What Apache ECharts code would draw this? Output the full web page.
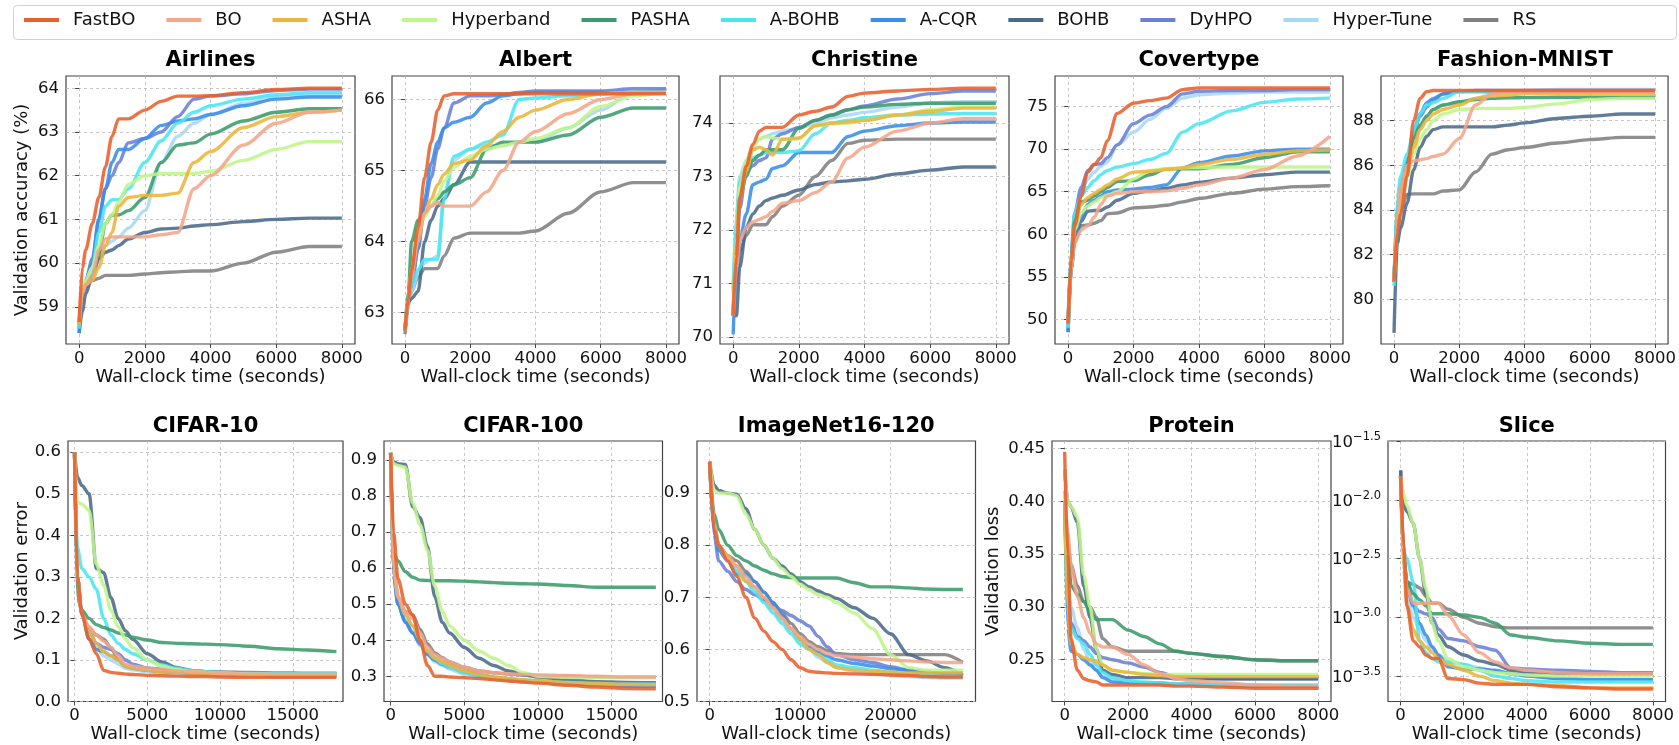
<!DOCTYPE html>
<html><head><meta charset="utf-8">
<script src="https://cdn.jsdelivr.net/npm/echarts@6/dist/echarts.min.js"></script>
<style>html,body{margin:0;padding:0;background:#fff}#c{width:1679px;height:745px}</style>
</head><body><div id="c"></div>
<script>
const methods = ['FastBO','BO','ASHA','Hyperband','PASHA','A-BOHB','A-CQR','BOHB','DyHPO','Hyper-Tune','RS'];
const colors = ['#E8602C','#F4A58A','#EDB53B','#BFF58A','#3B9B6A','#4AE6F0','#3A8DE8','#4A6A8A','#6A7FD8','#A8D8F4','#808080'];

const xs8 = [0,100,200,400,600,800,1000,1200,1500,2000,2500,3000,3500,4000,5000,6000,7000,8000];
const xs18 = [0,200,500,1000,1500,2000,2500,3000,3500,4000,5000,6000,7000,8000,9000,10000,12000,14000,16000,18000];
const xs28 = [0,500,1000,2000,3000,4000,5000,6000,7000,8000,9000,10000,11000,12000,13000,14000,16000,18000,20000,22000,24000,26000,28000];

const ticks8 = [0,2000,4000,6000,8000];
const ticks18 = [0,5000,10000,15000];
const ticks28 = [0,10000,20000];

// series order follows `methods`
const airlines = [
 [58.65,59.9,60.3,60.9,61.5,62.2,62.9,63.3,63.3,63.5,63.7,63.82,63.82,63.83,63.9,63.97,64.0,64.0],
 [58.7,59.3,59.5,59.7,60.3,60.55,60.6,60.6,60.6,60.6,60.65,60.7,61.7,62.0,62.7,63.2,63.45,63.5],
 [58.6,59.4,59.5,59.6,59.9,60.4,60.7,61.3,61.5,61.55,61.55,61.6,62.3,62.55,63.1,63.35,63.45,63.5],
 [58.6,59.5,59.6,59.9,60.4,60.9,61.1,61.4,61.8,62.0,62.05,62.05,62.05,62.1,62.35,62.6,62.78,62.78],
 [58.6,59.4,59.5,59.7,60.2,60.9,61.1,61.1,61.2,61.5,62.3,62.7,62.75,62.95,63.25,63.45,63.53,63.53],
 [58.5,59.4,59.6,59.9,60.7,61.3,61.45,61.45,61.7,62.3,62.8,63.2,63.45,63.6,63.75,63.85,63.9,63.9],
 [58.4,59.3,59.6,60.0,61.0,61.7,62.3,62.6,62.6,62.85,63.15,63.25,63.3,63.4,63.6,63.75,63.8,63.8],
 [58.4,58.9,59.3,59.7,60.1,60.25,60.3,60.4,60.55,60.7,60.78,60.8,60.85,60.88,60.95,61.0,61.03,61.03],
 [58.5,59.3,59.6,60.1,61.0,61.7,62.0,62.3,62.75,62.85,63.0,63.35,63.75,63.82,63.87,63.95,63.98,63.98],
 [58.5,59.4,59.6,59.8,60.1,60.4,60.5,60.6,60.8,61.2,62.3,62.9,63.2,63.4,63.65,63.8,63.85,63.85],
 [58.6,59.3,59.45,59.6,59.65,59.72,59.72,59.72,59.72,59.75,59.78,59.8,59.82,59.82,60.0,60.25,60.38,60.38]
];
const albert = [
 [62.75,63.2,63.6,64.2,64.9,65.4,65.85,66.05,66.08,66.08,66.08,66.08,66.08,66.08,66.08,66.08,66.08,66.08],
 [62.75,63.2,63.5,64.0,64.4,64.5,64.55,64.5,64.5,64.5,64.7,65.0,65.4,65.55,65.8,66.0,66.08,66.1],
 [62.75,63.2,63.6,64.1,64.4,64.6,64.8,64.95,65.1,65.15,65.35,65.55,65.75,65.85,66.0,66.08,66.1,66.1],
 [62.75,63.2,63.6,64.1,64.35,64.5,64.65,64.85,65.05,65.2,65.3,65.35,65.4,65.45,65.6,65.9,66.05,66.1],
 [62.75,63.3,64.0,64.3,64.4,64.5,64.6,64.7,64.8,64.9,65.3,65.4,65.4,65.4,65.5,65.75,65.88,65.88],
 [62.75,63.2,63.4,63.6,63.75,63.75,63.75,64.6,65.2,65.3,65.4,65.5,66.0,66.02,66.05,66.08,66.1,66.1],
 [62.75,63.2,63.4,63.9,64.6,65.1,65.4,65.6,65.68,65.75,65.95,66.05,66.08,66.1,66.1,66.1,66.1,66.1],
 [62.75,63.15,63.2,63.3,64.0,64.3,64.5,64.6,64.8,65.12,65.12,65.12,65.12,65.12,65.12,65.12,65.12,65.12],
 [62.75,63.2,63.4,63.9,64.5,64.9,65.3,65.6,65.95,66.05,66.05,66.07,66.1,66.12,66.12,66.12,66.15,66.15],
 [62.75,63.1,63.3,63.55,63.7,63.75,63.8,64.7,65.15,65.3,65.35,65.35,65.4,65.4,65.6,65.85,66.1,66.15],
 [62.7,63.1,63.3,63.5,63.62,63.62,63.62,63.8,64.05,64.12,64.12,64.12,64.12,64.15,64.4,64.7,64.83,64.83]
];
const christine = [
 [70.4,71.5,72.6,73.2,73.6,73.85,73.92,73.92,73.92,74.15,74.22,74.3,74.5,74.56,74.6,74.63,74.65,74.65],
 [70.4,71.3,71.8,72.05,72.15,72.2,72.25,72.35,72.5,72.55,72.7,72.9,73.35,73.55,73.85,74.0,74.08,74.08],
 [70.4,71.8,72.6,73.1,73.5,73.55,73.5,73.4,73.7,73.72,73.95,74.0,74.02,74.05,74.15,74.22,74.28,74.28],
 [70.4,71.9,72.8,73.3,73.55,73.7,73.75,73.72,73.7,73.7,73.95,73.98,74.0,74.05,74.15,74.25,74.3,74.3],
 [70.4,71.8,72.6,73.0,73.3,73.4,73.5,73.5,73.5,73.9,74.05,74.15,74.25,74.3,74.35,74.37,74.37,74.37],
 [70.9,72.2,72.9,73.2,73.35,73.4,73.45,73.45,73.45,73.48,73.8,74.0,74.05,74.1,74.15,74.17,74.18,74.18],
 [70.05,71.2,71.8,72.3,72.85,72.9,72.95,73.15,73.2,73.45,73.45,73.45,73.75,73.85,73.95,74.0,74.02,74.02],
 [70.4,70.4,71.3,72.05,72.3,72.45,72.55,72.6,72.65,72.75,72.85,72.9,72.92,72.95,73.05,73.12,73.18,73.18],
 [70.4,71.5,72.4,73.1,73.2,73.3,73.35,73.7,73.8,73.92,74.05,74.15,74.25,74.32,74.45,74.55,74.6,74.6],
 [70.8,72.3,73.0,73.3,73.55,73.7,73.75,73.8,73.85,73.9,74.0,74.1,74.15,74.2,74.3,74.38,74.4,74.4],
 [70.4,71.1,71.6,71.9,72.1,72.1,72.1,72.25,72.45,72.65,73.0,73.3,73.62,73.68,73.7,73.7,73.7,73.7]
];
const covertype = [
 [49.5,57,61,64.5,67.3,68.2,69.0,71.0,74.2,75.4,75.7,76.0,77.0,77.2,77.2,77.2,77.2,77.2],
 [49.5,56,59,60.5,61.0,62.0,63.5,64.5,64.8,65.0,65.0,65.1,65.4,65.8,66.6,67.6,69.2,71.5],
 [49.5,57,61,63.5,64.3,64.8,65.3,65.8,66.5,67.3,67.4,67.6,67.8,68.2,68.8,69.4,69.8,69.9],
 [49.5,56.5,60.5,62.5,63.3,63.8,64.3,64.6,65.0,66.5,67.5,67.7,67.8,67.85,67.9,67.9,67.9,67.9],
 [49.5,57.5,61.5,63.8,64.0,64.5,65.0,65.5,66.2,66.3,67.0,67.7,67.7,67.7,68.2,69.0,69.7,69.7],
 [49,58,62.5,64.5,65.5,66.3,67.0,67.5,67.9,68.3,68.8,69.5,72.0,73.0,74.5,75.5,75.9,76.0],
 [48.5,56,60,62.0,63.5,64.0,64.5,65.0,65.2,65.3,65.5,65.8,67.8,68.4,69.2,69.8,70.0,70.0],
 [48.5,56,59.5,61.5,62.7,62.8,62.8,63.2,64.0,64.8,65.1,65.4,65.8,66.1,66.6,67.0,67.3,67.3],
 [49.5,58,62.5,65.5,67.5,68.2,68.3,69.0,70.5,73.0,74.0,75.0,76.5,76.8,76.9,76.9,77.0,77.0],
 [49.5,58,62,65,66.5,67.3,68.0,68.5,70.5,72.0,73.5,74.8,76.0,76.4,76.6,76.7,76.7,76.7],
 [49.5,56,59,61.0,61.1,61.3,61.6,62.4,62.5,63.1,63.2,63.4,63.8,64.2,64.8,65.3,65.6,65.7]
];
const fashion = [
 [80.8,83.0,83.8,85.5,88.0,89.0,89.3,89.35,89.35,89.35,89.35,89.35,89.35,89.35,89.35,89.35,89.35,89.35],
 [80.8,83.5,85.0,86.0,86.2,86.25,86.3,86.4,86.5,87.2,88.7,89.2,89.3,89.3,89.3,89.3,89.3,89.3],
 [80.8,83.5,84.5,85.8,86.8,87.6,88.0,88.3,88.5,88.7,89.0,89.1,89.15,89.2,89.2,89.2,89.2,89.2],
 [80.8,83.2,84.2,85.5,86.5,87.2,87.6,88.0,88.3,88.5,88.55,88.55,88.55,88.6,88.75,88.95,89.0,89.0],
 [80.8,83.5,84.5,86.0,87.2,87.8,88.2,88.5,88.7,88.85,88.95,89.0,89.02,89.03,89.05,89.05,89.05,89.05],
 [80.6,84.5,85.5,86.5,87.5,88.3,88.7,88.8,89.0,89.3,89.3,89.3,89.3,89.3,89.3,89.3,89.3,89.3],
 [80.8,84.2,85.0,86.2,87.5,88.3,88.8,89.0,89.2,89.3,89.3,89.3,89.3,89.3,89.3,89.3,89.3,89.3],
 [78.5,82.5,83.2,84.3,85.8,86.8,87.3,87.6,87.72,87.72,87.72,87.72,87.8,87.9,88.1,88.2,88.3,88.3],
 [80.8,83.5,84.5,86.0,87.5,88.2,88.6,88.9,89.2,89.3,89.35,89.35,89.35,89.35,89.35,89.35,89.35,89.35],
 [80.8,84.0,85.2,86.2,87.0,87.7,88.2,88.5,88.7,88.8,89.0,89.2,89.3,89.35,89.4,89.4,89.4,89.4],
 [80.8,83.0,84.0,84.7,84.72,84.72,84.72,84.72,84.85,84.9,85.7,86.5,86.7,86.8,87.0,87.15,87.25,87.25]
];
const cifar10 = [
 [0.6,0.3,0.21,0.15,0.115,0.075,0.07,0.068,0.066,0.065,0.063,0.062,0.061,0.06,0.06,0.059,0.058,0.058,0.058,0.058],
 [0.6,0.3,0.21,0.18,0.16,0.145,0.13,0.11,0.09,0.085,0.08,0.077,0.074,0.072,0.07,0.068,0.066,0.065,0.065,0.065],
 [0.6,0.3,0.21,0.17,0.14,0.12,0.11,0.1,0.085,0.08,0.075,0.072,0.07,0.068,0.066,0.065,0.063,0.062,0.062,0.062],
 [0.6,0.48,0.475,0.46,0.33,0.28,0.22,0.18,0.15,0.13,0.1,0.085,0.077,0.072,0.07,0.068,0.066,0.065,0.065,0.065],
 [0.6,0.25,0.22,0.2,0.185,0.178,0.172,0.165,0.16,0.155,0.148,0.142,0.14,0.139,0.138,0.137,0.133,0.127,0.124,0.12],
 [0.6,0.37,0.32,0.3,0.27,0.2,0.16,0.14,0.125,0.115,0.1,0.088,0.08,0.075,0.072,0.07,0.068,0.067,0.067,0.067],
 [0.6,0.3,0.21,0.15,0.125,0.12,0.11,0.1,0.085,0.08,0.075,0.072,0.07,0.068,0.066,0.065,0.063,0.062,0.062,0.062],
 [0.6,0.54,0.52,0.5,0.32,0.31,0.25,0.2,0.17,0.15,0.115,0.095,0.082,0.075,0.072,0.07,0.068,0.067,0.067,0.067],
 [0.6,0.3,0.21,0.17,0.14,0.13,0.125,0.115,0.1,0.09,0.08,0.075,0.072,0.07,0.068,0.066,0.065,0.064,0.064,0.064],
 [0.6,0.3,0.21,0.16,0.13,0.11,0.1,0.09,0.08,0.076,0.072,0.069,0.067,0.065,0.064,0.063,0.062,0.061,0.061,0.061],
 [0.6,0.3,0.21,0.175,0.16,0.15,0.13,0.1,0.085,0.082,0.08,0.078,0.076,0.074,0.072,0.071,0.07,0.069,0.068,0.068]
];
const cifar100 = [
 [0.92,0.7,0.57,0.5,0.47,0.4,0.33,0.3,0.3,0.298,0.296,0.294,0.29,0.287,0.284,0.281,0.275,0.27,0.266,0.265],
 [0.92,0.6,0.52,0.48,0.46,0.42,0.38,0.36,0.35,0.34,0.325,0.315,0.31,0.307,0.305,0.304,0.302,0.3,0.298,0.298],
 [0.92,0.6,0.52,0.47,0.44,0.4,0.37,0.35,0.34,0.33,0.315,0.305,0.298,0.294,0.29,0.287,0.283,0.28,0.278,0.277],
 [0.92,0.89,0.885,0.88,0.78,0.72,0.65,0.55,0.48,0.44,0.4,0.37,0.35,0.33,0.31,0.3,0.297,0.296,0.296,0.296],
 [0.92,0.64,0.62,0.59,0.575,0.567,0.566,0.565,0.565,0.565,0.564,0.562,0.56,0.558,0.557,0.556,0.552,0.547,0.547,0.547],
 [0.92,0.6,0.52,0.47,0.44,0.4,0.37,0.35,0.335,0.325,0.31,0.3,0.294,0.29,0.287,0.285,0.282,0.28,0.278,0.278],
 [0.92,0.58,0.5,0.45,0.42,0.39,0.36,0.345,0.333,0.325,0.312,0.303,0.297,0.293,0.29,0.287,0.284,0.282,0.28,0.28],
 [0.92,0.895,0.89,0.888,0.77,0.74,0.66,0.52,0.45,0.42,0.38,0.35,0.33,0.315,0.305,0.298,0.29,0.285,0.283,0.282],
 [0.92,0.58,0.5,0.45,0.42,0.4,0.37,0.35,0.34,0.33,0.315,0.305,0.297,0.292,0.288,0.285,0.28,0.276,0.273,0.272],
 [0.92,0.58,0.5,0.455,0.42,0.385,0.36,0.34,0.33,0.32,0.305,0.297,0.292,0.288,0.285,0.283,0.279,0.276,0.275,0.274],
 [0.92,0.6,0.52,0.48,0.47,0.43,0.39,0.365,0.352,0.34,0.325,0.315,0.31,0.306,0.303,0.301,0.3,0.298,0.297,0.297]
];
const imagenet = [
 [0.96,0.83,0.8,0.77,0.74,0.7,0.66,0.635,0.615,0.6,0.58,0.565,0.558,0.556,0.555,0.554,0.553,0.552,0.551,0.55,0.548,0.547,0.547],
 [0.96,0.84,0.8,0.775,0.76,0.74,0.72,0.7,0.68,0.66,0.64,0.625,0.61,0.6,0.592,0.588,0.585,0.582,0.58,0.578,0.576,0.575,0.575],
 [0.96,0.84,0.8,0.78,0.76,0.73,0.72,0.7,0.68,0.66,0.64,0.62,0.6,0.59,0.575,0.565,0.56,0.558,0.556,0.555,0.555,0.555,0.555],
 [0.96,0.905,0.9,0.9,0.895,0.86,0.83,0.8,0.775,0.755,0.74,0.725,0.715,0.705,0.7,0.69,0.67,0.64,0.59,0.565,0.56,0.56,0.56],
 [0.96,0.86,0.83,0.8,0.78,0.77,0.76,0.752,0.745,0.74,0.738,0.737,0.737,0.737,0.737,0.737,0.728,0.72,0.72,0.718,0.716,0.715,0.715],
 [0.96,0.84,0.8,0.77,0.75,0.73,0.71,0.69,0.67,0.65,0.63,0.61,0.6,0.59,0.58,0.57,0.565,0.56,0.556,0.553,0.55,0.548,0.548],
 [0.96,0.83,0.79,0.77,0.745,0.745,0.73,0.71,0.69,0.665,0.64,0.62,0.605,0.595,0.587,0.58,0.573,0.568,0.563,0.56,0.557,0.555,0.555],
 [0.96,0.915,0.905,0.9,0.898,0.87,0.83,0.8,0.775,0.76,0.745,0.73,0.72,0.712,0.705,0.698,0.68,0.66,0.63,0.59,0.578,0.565,0.55],
 [0.96,0.82,0.77,0.75,0.73,0.715,0.705,0.695,0.685,0.675,0.665,0.655,0.645,0.625,0.605,0.59,0.58,0.575,0.567,0.56,0.555,0.553,0.553],
 [0.96,0.83,0.79,0.77,0.755,0.735,0.715,0.695,0.675,0.655,0.635,0.615,0.6,0.585,0.575,0.565,0.558,0.553,0.55,0.548,0.546,0.545,0.545],
 [0.96,0.84,0.8,0.78,0.77,0.75,0.73,0.71,0.69,0.67,0.65,0.63,0.615,0.605,0.598,0.592,0.59,0.59,0.59,0.59,0.59,0.59,0.575]
];
const protein = [
 [0.447,0.35,0.27,0.24,0.232,0.23,0.229,0.226,0.226,0.226,0.226,0.226,0.225,0.225,0.224,0.223,0.223,0.223],
 [0.41,0.37,0.34,0.31,0.29,0.275,0.265,0.262,0.262,0.255,0.245,0.237,0.232,0.23,0.228,0.226,0.225,0.225],
 [0.4,0.3,0.265,0.255,0.252,0.25,0.248,0.245,0.24,0.238,0.236,0.235,0.234,0.234,0.234,0.234,0.234,0.234],
 [0.43,0.4,0.395,0.385,0.33,0.3,0.26,0.245,0.24,0.238,0.237,0.236,0.236,0.236,0.236,0.236,0.236,0.236],
 [0.4,0.36,0.32,0.312,0.305,0.295,0.288,0.288,0.288,0.278,0.272,0.265,0.258,0.256,0.253,0.25,0.249,0.249],
 [0.4,0.3,0.28,0.27,0.265,0.255,0.245,0.238,0.233,0.23,0.229,0.228,0.227,0.227,0.226,0.226,0.226,0.226],
 [0.4,0.28,0.258,0.255,0.25,0.245,0.24,0.233,0.229,0.228,0.228,0.228,0.227,0.227,0.226,0.225,0.225,0.225],
 [0.43,0.4,0.395,0.38,0.32,0.29,0.26,0.24,0.236,0.233,0.233,0.233,0.232,0.232,0.232,0.232,0.232,0.232],
 [0.4,0.31,0.285,0.272,0.268,0.262,0.256,0.252,0.25,0.247,0.243,0.238,0.234,0.233,0.232,0.232,0.232,0.232],
 [0.4,0.32,0.3,0.28,0.26,0.248,0.24,0.235,0.232,0.23,0.228,0.227,0.226,0.226,0.225,0.225,0.225,0.225],
 [0.4,0.36,0.34,0.32,0.305,0.3,0.29,0.27,0.262,0.258,0.258,0.258,0.258,0.256,0.253,0.25,0.249,0.249]
];
// Slice: log10 of validation loss (the axis is logarithmic)
const sliceLog10 = [
 [-1.8,-2.4,-2.9,-3.2,-3.25,-3.32,-3.35,-3.35,-3.52,-3.53,-3.56,-3.57,-3.57,-3.57,-3.59,-3.6,-3.61,-3.61],
 [-1.8,-2.5,-2.75,-2.88,-2.88,-2.88,-2.88,-2.88,-2.98,-3.15,-3.3,-3.38,-3.43,-3.45,-3.47,-3.48,-3.48,-3.48],
 [-1.8,-2.6,-2.9,-3.1,-3.2,-3.25,-3.3,-3.35,-3.4,-3.45,-3.5,-3.54,-3.56,-3.57,-3.58,-3.6,-3.6,-3.6],
 [-1.8,-1.95,-2.05,-2.2,-2.5,-2.75,-3.05,-3.2,-3.35,-3.42,-3.45,-3.47,-3.48,-3.49,-3.5,-3.5,-3.5,-3.5],
 [-1.8,-2.5,-2.7,-2.8,-2.85,-2.9,-2.97,-2.97,-2.97,-2.98,-3.0,-3.05,-3.15,-3.17,-3.2,-3.22,-3.23,-3.23],
 [-1.8,-2.45,-2.5,-2.7,-3.2,-3.3,-3.35,-3.38,-3.38,-3.4,-3.45,-3.5,-3.52,-3.54,-3.55,-3.55,-3.55,-3.55],
 [-1.8,-2.5,-2.7,-2.9,-3.05,-3.15,-3.25,-3.32,-3.42,-3.44,-3.44,-3.45,-3.48,-3.5,-3.52,-3.53,-3.53,-3.53],
 [-1.75,-2.05,-2.1,-2.2,-2.5,-2.8,-3.05,-3.15,-3.25,-3.32,-3.37,-3.4,-3.45,-3.47,-3.48,-3.48,-3.48,-3.48],
 [-1.75,-2.5,-2.75,-2.9,-2.95,-2.97,-3.0,-3.1,-3.18,-3.2,-3.25,-3.28,-3.43,-3.44,-3.45,-3.46,-3.47,-3.47],
 [-1.8,-2.55,-2.8,-3.0,-3.1,-3.2,-3.27,-3.32,-3.37,-3.4,-3.43,-3.46,-3.48,-3.5,-3.52,-3.53,-3.53,-3.53],
 [-1.8,-2.5,-2.7,-2.72,-2.75,-2.82,-2.88,-2.88,-2.93,-3.0,-3.05,-3.08,-3.09,-3.09,-3.09,-3.09,-3.09,-3.09]
];

const FONT = 'DejaVu Sans';
const TXT = '#111';

const panels = [
 {title:'Airlines', box:[66,76,289,268], xs:xs8, xr:[-400,8400], xt:ticks8, yr:[58.15,64.28], yt:[59,60,61,62,63,64], dec:0, ylabel:'Validation accuracy (%)', yGap:35, data:airlines},
 {title:'Albert', box:[392,76,287,268], xs:xs8, xr:[-400,8400], xt:ticks8, yr:[62.56,66.33], yt:[63,64,65,66], dec:0, data:albert},
 {title:'Christine', box:[720,76,289,268], xs:xs8, xr:[-400,8400], xt:ticks8, yr:[69.87,74.88], yt:[70,71,72,73,74], dec:0, data:christine},
 {title:'Covertype', box:[1055,76,288,268], xs:xs8, xr:[-400,8400], xt:ticks8, yr:[47.1,78.6], yt:[50,55,60,65,70,75], dec:0, data:covertype},
 {title:'Fashion-MNIST', box:[1381,76,288,268], xs:xs8, xr:[-400,8400], xt:ticks8, yr:[78.0,90.0], yt:[80,82,84,86,88], dec:0, data:fashion},
 {title:'CIFAR-10', box:[68,441,275,260.5], xs:xs18, xr:[-450,18450], xt:ticks18, yr:[0,0.627], yt:[0,0.1,0.2,0.3,0.4,0.5,0.6], dec:1, ylabel:'Validation error', yGap:37, data:cifar10},
 {title:'CIFAR-100', box:[384,441,278.5,260.5], xs:xs18, xr:[-450,18450], xt:ticks18, yr:[0.230,0.953], yt:[0.3,0.4,0.5,0.6,0.7,0.8,0.9], dec:1, data:cifar100},
 {title:'ImageNet16-120', box:[697,441,278.5,260.5], xs:xs28, xr:[-1400,29400], xt:ticks28, yr:[0.5,1.0], yt:[0.5,0.6,0.7,0.8,0.9], dec:1, data:imagenet},
 {title:'Protein', box:[1052,441,279,260.5], xs:xs8, xr:[-400,8400], xt:ticks8, yr:[0.2104,0.4572], yt:[0.25,0.30,0.35,0.40,0.45], dec:2, ylabel:'Validation loss', yGap:50, data:protein},
 {title:'Slice', box:[1388,441,277.5,260.5], xs:xs8, xr:[-400,8400], xt:ticks8, yr:[-3.716,-1.5], yt:[-3.5,-3.0,-2.5,-2.0,-1.5], dec:1, log:true, data:sliceLog10}
];

const grids=[], xAxes=[], yAxes=[], series=[], titles=[];
const splitStyle = {color:'#b8b8b8', width:0.8, type:[3,3]};
panels.forEach((p,i)=>{
  const top = i < 5;
  grids.push({left:p.box[0], top:p.box[1], width:p.box[2], height:p.box[3], show:true, borderColor:'#444', borderWidth:1.2, containLabel:false});
  titles.push({text:p.title, left:p.box[0]+p.box[2]/2, top: top ? 50 : 416, textAlign:'center', padding:0,
    textStyle:{fontFamily:FONT, fontSize:21, fontWeight:'bold', color:'#000'}});
  xAxes.push({type:'value', gridIndex:i, min:p.xr[0], max:p.xr[1],
    axisLine:{show:false},
    axisTick:{show:true, customValues:p.xt, length:4, lineStyle:{color:'#444', width:1}},
    axisLabel:{customValues:p.xt, margin:6, fontSize:16.5, color:TXT, fontFamily:FONT, formatter: v => String(Math.round(v))},
    splitLine:{show:true, lineStyle:splitStyle},
    name:'Wall-clock time (seconds)', nameLocation:'middle', nameGap: top ? 24 : 19,
    nameTextStyle:{fontSize:18, color:TXT, fontFamily:FONT}});
  const yl = {customValues:p.yt, margin:7, fontSize:16.5, color:TXT, fontFamily:FONT,
    formatter: v => v.toFixed(p.dec)};
  if (p.log) {
    yl.formatter = v => '{b|10}{s|' + v.toFixed(1).replace('-','\u2212') + '}';
    yl.rich = {b:{fontSize:16.5, fontFamily:FONT, color:TXT, lineHeight:20, verticalAlign:'bottom'},
               s:{fontSize:11.5, fontFamily:FONT, color:TXT, lineHeight:12, verticalAlign:'top'}};
  }
  yAxes.push({type:'value', gridIndex:i, min:p.yr[0], max:p.yr[1],
    axisLine:{show:false},
    axisTick:{show:true, customValues:p.yt, length:4, lineStyle:{color:'#444', width:1}},
    axisLabel:yl,
    splitLine:{show:true, lineStyle:splitStyle},
    name:p.ylabel || '', nameLocation:'middle', nameGap:p.yGap || 30, nameRotate:90,
    nameTextStyle:{fontSize:18, color:TXT, fontFamily:FONT}});
  for (let m = methods.length-1; m >= 0; m--) {
    series.push({type:'line', name:methods[m], xAxisIndex:i, yAxisIndex:i,
      data:p.xs.map((x,k)=>[x, p.data[m][k]]),
      showSymbol:false, symbol:'none', smooth:0.3, smoothMonotone:'x',
      color:colors[m], itemStyle:{color:colors[m]},
      lineStyle:{width:3.4, color:colors[m], opacity:0.88},
      emphasis:{disabled:true}, silent:true, z:2+(methods.length-m)});
  }
});

const chart = echarts.init(document.getElementById('c'), null, {renderer:'canvas'});
chart.setOption({
  animation:false,
  backgroundColor:'#fff',
  title:titles,
  graphic:[{type:'rect', z:-10, silent:true, shape:{x:13.5, y:5.5, width:1663, height:34, r:4},
    style:{fill:'#fff', stroke:'#d0d0d0', lineWidth:1}}],
  legend:{data:methods, left:24, top:11, padding:0, itemGap:31, itemWidth:35, itemHeight:4, icon:'rect',
    selectedMode:false, textStyle:{fontFamily:FONT, fontSize:18, color:TXT, padding:[0,0,0,9]}},
  grid:grids, xAxis:xAxes, yAxis:yAxes, series:series
});
</script></body></html>
